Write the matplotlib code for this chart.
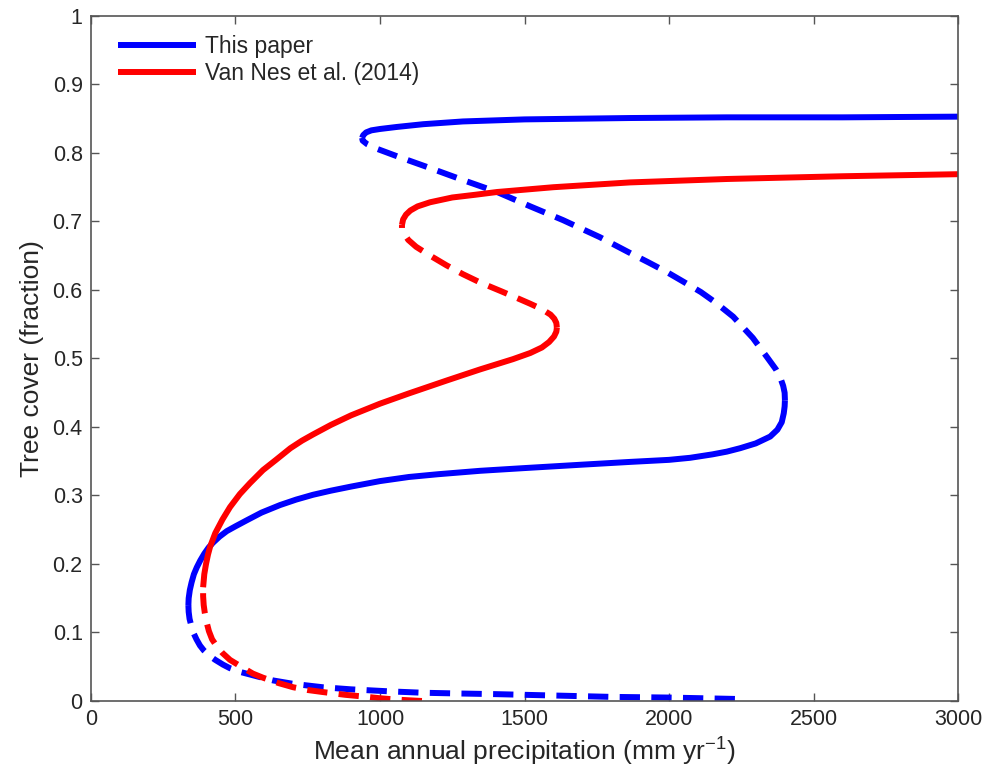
import matplotlib
matplotlib.use("Agg")
import matplotlib.pyplot as plt

plt.rcParams['font.family'] = ['Liberation Sans', 'DejaVu Sans']
plt.rcParams['mathtext.default'] = 'regular'

# ---- Data ----
blue_lower_dashed_x = [2228, 2000, 1800, 1600, 1400, 1266, 1150, 1035, 900, 803, 700, 630, 574, 520, 480, 457, 430, 410, 390, 377, 365, 355, 347, 341, 338, 337]
blue_lower_dashed_y = [0.003, 0.005, 0.006, 0.008, 0.010, 0.011, 0.012, 0.014, 0.017, 0.020, 0.025, 0.030, 0.036, 0.042, 0.048, 0.053, 0.060, 0.066, 0.074, 0.081, 0.090, 0.099, 0.110, 0.120, 0.130, 0.140]

blue_lower_solid_x = [337, 338, 342, 348, 356, 366, 378, 392, 407, 422, 445, 470, 500, 540, 590, 654, 710, 768, 830, 900, 1000, 1100, 1200, 1346, 1500, 1700, 1865, 2000, 2073, 2150, 2200, 2246, 2300, 2350, 2375, 2390, 2397, 2400, 2401]
blue_lower_solid_y = [0.140, 0.150, 0.162, 0.173, 0.185, 0.195, 0.205, 0.215, 0.224, 0.231, 0.240, 0.248, 0.255, 0.264, 0.275, 0.286, 0.294, 0.301, 0.307, 0.313, 0.321, 0.327, 0.331, 0.336, 0.340, 0.345, 0.349, 0.352, 0.355, 0.360, 0.364, 0.369, 0.376, 0.386, 0.396, 0.407, 0.420, 0.430, 0.439]

blue_mid_dashed_x = [2401, 2400, 2395, 2385, 2370, 2339, 2290, 2222, 2160, 2110, 2050, 1993, 1930, 1865, 1761, 1633, 1520, 1405, 1290, 1173, 1060, 990, 955, 940, 938]
blue_mid_dashed_y = [0.439, 0.450, 0.460, 0.472, 0.484, 0.502, 0.530, 0.561, 0.582, 0.597, 0.612, 0.626, 0.640, 0.654, 0.677, 0.702, 0.722, 0.743, 0.760, 0.778, 0.795, 0.806, 0.813, 0.818, 0.822]

blue_upper_solid_x = [938, 942, 952, 970, 1000, 1059, 1150, 1287, 1500, 1865, 2200, 2600, 3000]
blue_upper_solid_y = [0.822, 0.826, 0.830, 0.833, 0.835, 0.838, 0.842, 0.846, 0.849, 0.851, 0.852, 0.852, 0.853]

red_lower_dashed_x = [1145, 1100, 1059, 1000, 955, 880, 803, 750, 700, 650, 595, 560, 520, 481, 455, 435, 419, 408, 400, 394, 390, 388, 388]
red_lower_dashed_y = [0.000, 0.001, 0.002, 0.004, 0.006, 0.009, 0.013, 0.016, 0.020, 0.026, 0.034, 0.040, 0.050, 0.060, 0.070, 0.080, 0.090, 0.102, 0.115, 0.128, 0.140, 0.153, 0.166]

red_lower_solid_x = [388, 392, 398, 405, 412, 430, 455, 481, 515, 550, 595, 640, 690, 730, 768, 830, 900, 1000, 1100, 1232, 1346, 1460, 1520, 1560, 1585, 1602, 1610, 1612]
red_lower_solid_y = [0.166, 0.185, 0.200, 0.214, 0.225, 0.245, 0.265, 0.283, 0.302, 0.318, 0.337, 0.352, 0.369, 0.380, 0.389, 0.403, 0.417, 0.434, 0.449, 0.468, 0.484, 0.499, 0.508, 0.516, 0.524, 0.532, 0.539, 0.545]

red_mid_dashed_x = [1612, 1610, 1603, 1590, 1560, 1519, 1470, 1420, 1346, 1287, 1230, 1170, 1125, 1098, 1082, 1076, 1076]
red_mid_dashed_y = [0.545, 0.552, 0.558, 0.564, 0.572, 0.580, 0.589, 0.598, 0.611, 0.623, 0.636, 0.651, 0.663, 0.673, 0.683, 0.690, 0.695]

red_upper_solid_x = [1076, 1080, 1090, 1105, 1130, 1173, 1250, 1330, 1405, 1600, 1865, 2200, 2600, 3000]
red_upper_solid_y = [0.695, 0.703, 0.710, 0.716, 0.722, 0.728, 0.735, 0.739, 0.743, 0.750, 0.757, 0.762, 0.766, 0.769]

series_labels = ["This paper", "Van Nes et al. (2014)"]
x_ticks = [0, 500, 1000, 1500, 2000, 2500, 3000]
y_ticks = [0, 0.1, 0.2, 0.3, 0.4, 0.5, 0.6, 0.7, 0.8, 0.9, 1]
y_ticklabels = ["0", "0.1", "0.2", "0.3", "0.4", "0.5", "0.6", "0.7", "0.8", "0.9", "1"]

# ---- Plot ----
fig = plt.figure(figsize=(9.89, 7.82), dpi=100)
ax = fig.add_axes([0.092, 0.1036, 0.8767, 0.876])

lw = 4.3
dash = (3.4, 1.9)
blue = '#0000ff'
red = '#ff0000'

l1, = ax.plot(blue_lower_solid_x, blue_lower_solid_y, color=blue, lw=lw, solid_capstyle='butt', solid_joinstyle='round')
ax.plot(blue_upper_solid_x, blue_upper_solid_y, color=blue, lw=lw, solid_capstyle='butt', solid_joinstyle='round')
ax.plot(blue_lower_dashed_x, blue_lower_dashed_y, color=blue, lw=lw, ls=(0, dash), dash_capstyle='butt')
ax.plot(blue_mid_dashed_x, blue_mid_dashed_y, color=blue, lw=lw, ls=(0, dash), dash_capstyle='butt')

l2, = ax.plot(red_lower_solid_x, red_lower_solid_y, color=red, lw=lw, solid_capstyle='butt', solid_joinstyle='round')
ax.plot(red_upper_solid_x, red_upper_solid_y, color=red, lw=lw, solid_capstyle='butt', solid_joinstyle='round')
ax.plot(red_lower_dashed_x, red_lower_dashed_y, color=red, lw=lw, ls=(0, dash), dash_capstyle='butt')
ax.plot(red_mid_dashed_x, red_mid_dashed_y, color=red, lw=lw, ls=(0, dash), dash_capstyle='butt')

ax.set_xlim(0, 3000)
ax.set_ylim(0, 1)
ax.set_xticks(x_ticks)
ax.set_xticklabels([str(t) for t in x_ticks])
ax.set_yticks(y_ticks)
ax.set_yticklabels(y_ticklabels)

axcol = '#262626'
for s in ax.spines.values():
    s.set_color('#555555')
    s.set_linewidth(1.2)
ax.tick_params(direction='in', length=6, width=1.0, top=True, right=True,
               labelsize=15.5, colors='#555555', labelcolor=axcol, pad=6)

ax.set_xlabel('Mean annual precipitation (mm yr$^{-1}$)', fontsize=19, color=axcol, labelpad=4)
ax.set_ylabel('Tree cover (fraction)', fontsize=19, color=axcol, labelpad=6)

leg = ax.legend([l1, l2], series_labels, loc='upper left', frameon=False,
                fontsize=16.5, handlelength=3.4, handletextpad=0.4,
                borderaxespad=0.0, borderpad=0.0, labelspacing=0.15,
                bbox_to_anchor=(0.031, 0.972))
for t in leg.get_texts():
    t.set_color(axcol)

fig.savefig('out.png', dpi=100)
